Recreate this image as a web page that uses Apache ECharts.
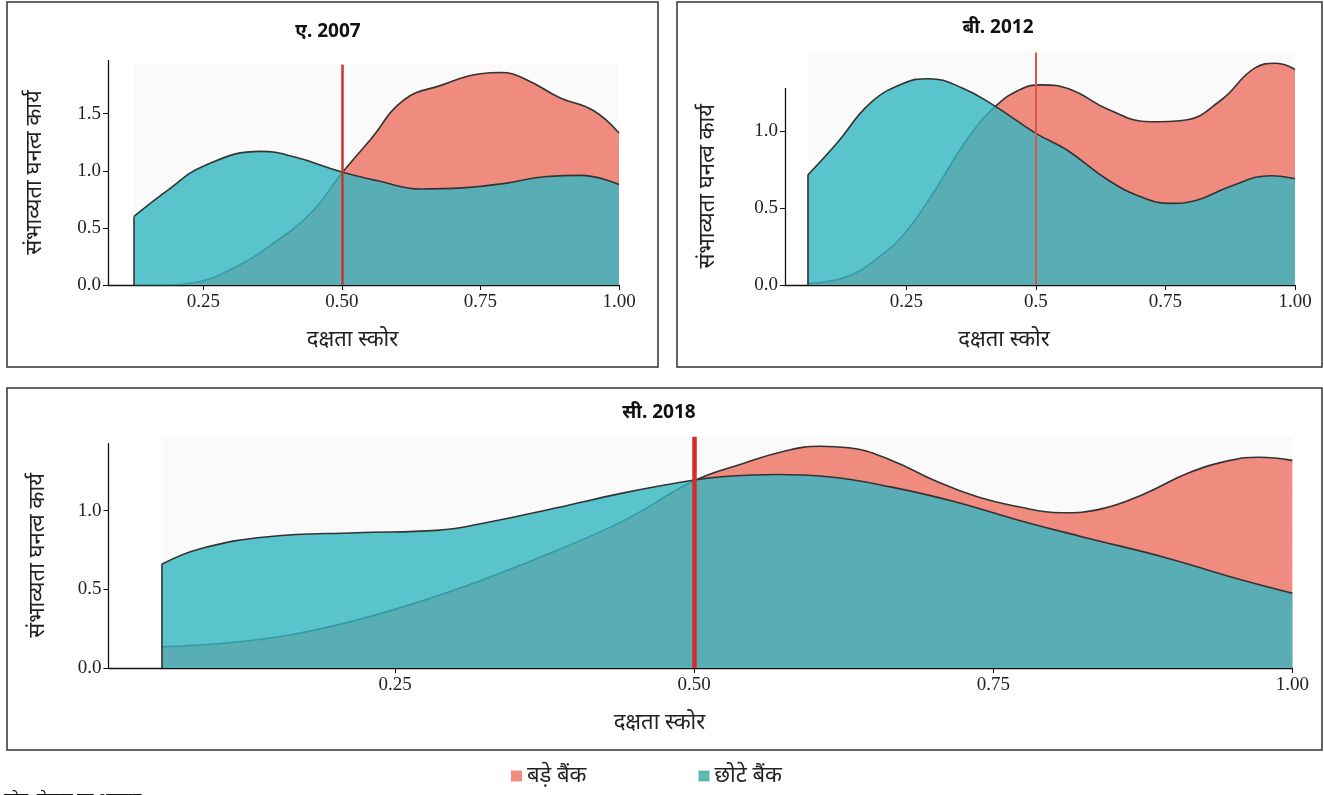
<!DOCTYPE html>
<html>
<head>
<meta charset="utf-8">
<script src="https://cdn.jsdelivr.net/npm/echarts@6/dist/echarts.min.js"></script>
<style>
html,body{margin:0;padding:0;background:#fff;}
#chart{width:1324px;height:795px;}
</style>
</head>
<body>
<div id="chart"></div>
<script>
// ---- Data ----
const seriesNames = ['बड़े बैंक', 'छोटे बैंक'];
const titles = ['ए. 2007', 'बी. 2012', 'सी. 2018'];
const xAxisName = 'दक्षता स्कोर';
const yAxisName = 'संभाव्यता घनत्व कार्य';
const noteText = 'स्रोत: लेखक का अनुमान';

const xTicks = [0.25, 0.5, 0.75, 1.0];
const xTickLabelsAC = ['0.25', '0.50', '0.75', '1.00'];
const xTickLabelsB = ['0.25', '0.5', '0.75', '1.00'];
const yTicksA = [0, 0.5, 1.0, 1.5];
const yTicksBC = [0, 0.5, 1.0];
const cutoff = 0.5;

// Panel A (2007)
const largeA = [[0.125,0.0],[0.18,0.0],[0.233,0.02],[0.309,0.16],[0.369,0.34],[0.444,0.63],[0.5,0.98],[0.551,1.27],[0.612,1.62],[0.68,1.75],[0.75,1.85],[0.787,1.86],[0.832,1.80],[0.893,1.64],[0.953,1.53],[1.0,1.33]];
const smallA = [[0.125,0.6],[0.186,0.83],[0.25,1.04],[0.354,1.17],[0.415,1.12],[0.5,0.99],[0.567,0.91],[0.643,0.84],[0.718,0.85],[0.794,0.89],[0.87,0.95],[0.931,0.96],[1.0,0.88]];
// Panel B (2012)
const largeB = [[0.06,0.01],[0.132,0.05],[0.197,0.18],[0.253,0.36],[0.31,0.64],[0.366,0.94],[0.422,1.16],[0.47,1.27],[0.51,1.30],[0.567,1.27],[0.64,1.14],[0.721,1.06],[0.786,1.07],[0.857,1.20],[0.923,1.41],[0.963,1.44],[1.0,1.40]];
const smallB = [[0.06,0.714],[0.116,0.92],[0.18,1.18],[0.245,1.31],[0.293,1.34],[0.358,1.28],[0.422,1.16],[0.5,0.985],[0.56,0.877],[0.64,0.68],[0.705,0.57],[0.76,0.53],[0.81,0.55],[0.875,0.64],[0.954,0.71],[1.0,0.69]];
// Panel C (2018)
const largeC = [[0.055,0.135],[0.106,0.157],[0.162,0.21],[0.218,0.305],[0.274,0.43],[0.33,0.58],[0.386,0.75],[0.442,0.94],[0.5,1.19],[0.541,1.30],[0.576,1.38],[0.605,1.41],[0.629,1.40],[0.665,1.32],[0.70,1.195],[0.736,1.09],[0.771,1.025],[0.806,0.987],[0.842,1.015],[0.877,1.11],[0.913,1.24],[0.948,1.32],[0.972,1.34],[1.0,1.32]];
const smallC = [[0.055,0.66],[0.088,0.76],[0.144,0.835],[0.218,0.86],[0.285,0.875],[0.33,0.93],[0.386,1.02],[0.442,1.115],[0.5,1.195],[0.523,1.216],[0.569,1.23],[0.612,1.216],[0.665,1.15],[0.718,1.057],[0.771,0.94],[0.824,0.835],[0.895,0.70],[0.948,0.58],[1.0,0.475]];

// ---- Styles ----
const RED = '#f08b80';
const TEAL = 'rgba(50,182,192,0.8)';
const LEGEND_TEAL = '#64b4b3';
const OUTLINE = '#333';
const SERIF = "'Liberation Serif', 'DejaVu Serif', serif";
const SANS = "'Noto Sans', 'Open Sans', sans-serif";

// axisTop: where the drawn y axis line ends; plotTop: top of the plotting region (cut-off line / background)
const panels = [
  {large: largeA, small: smallA, xMin: 0.078, axisTop: 1.97, plotTop: 1.97, lineTop: 1.93, yTicks: yTicksA, xLabels: xTickLabelsAC,
   grid: {left: 108, right: 705, top: 60, bottom: 510}, vWidth: 2.5, vColor: '#c9362c', nameGapY: 62, yNameShift: 0, xNamePad: 22, xNameGap: 44},
  {large: largeB, small: smallB, xMin: 0.016, axisTop: 1.28, plotTop: 1.51, lineTop: 1.51, yTicks: yTicksBC, xLabels: xTickLabelsB,
   grid: {left: 785, right: 29, top: 52.5, bottom: 510}, vWidth: 2, vColor: '#d9574a', nameGapY: 66, yNameShift: 35, xNamePad: 72, xNameGap: 44},
  {large: largeC, small: smallC, xMin: 0.0105, axisTop: 1.43, plotTop: 1.47, lineTop: 1.47, yTicks: yTicksBC, xLabels: xTickLabelsAC,
   grid: {left: 108.5, right: 31.6, top: 436.8, bottom: 127}, vWidth: 4.5, vColor: '#d42b2b', nameGapY: 60, yNameShift: 6, xNamePad: 82, xNameGap: 44}
];

const grids = [], xAxes = [], yAxes = [], series = [];
panels.forEach((p, i) => {
  grids.push(Object.assign({containLabel: false}, p.grid));
  xAxes.push({
    type: 'value', gridIndex: i, min: p.xMin, max: 1.0,
    name: xAxisName, nameLocation: 'middle', nameGap: p.xNameGap,
    nameTextStyle: {fontFamily: SANS, fontSize: 22, color: '#222', padding: [0, p.xNamePad, 0, 0]},
    axisLine: {show: true, onZero: false, lineStyle: {color: '#111', width: 1.3}},
    axisTick: {show: true, length: 5, customValues: xTicks, lineStyle: {color: '#111'}},
    axisLabel: {customValues: xTicks, fontFamily: SERIF, fontSize: 19, color: '#222', margin: 8,
      formatter: v => { const k = xTicks.findIndex(t => Math.abs(t - v) < 1e-6); return k >= 0 ? p.xLabels[k] : ''; }},
    splitLine: {show: false}
  });
  yAxes.push({
    type: 'value', gridIndex: i, min: 0, max: p.plotTop,
    name: yAxisName, nameLocation: 'middle', nameGap: p.nameGapY, nameRotate: 90,
    nameTextStyle: {fontFamily: SANS, fontSize: 22, color: '#222', padding: [0, p.yNameShift, 0, 0]},
    axisLine: {show: false},
    axisTick: {show: true, length: 5, customValues: p.yTicks, lineStyle: {color: '#111'}},
    axisLabel: {customValues: p.yTicks, fontFamily: SERIF, fontSize: 19, color: '#222', margin: 7,
      formatter: v => v.toFixed(1)},
    splitLine: {show: false}
  });
  const x0 = p.small[0][0];
  // background region + y axis line (drawn to axisTop only)
  series.push({
    name: 'bg' + i, type: 'line', xAxisIndex: i, yAxisIndex: i, data: [], z: 1,
    markArea: {silent: true, itemStyle: {color: 'rgba(246,246,246,0.6)'},
      data: [[{coord: [x0, 0]}, {coord: [1.0, p.lineTop]}]]},
    markLine: {silent: true, symbol: 'none', label: {show: false}, animation: false,
      lineStyle: {color: '#111', width: 1.3, type: 'solid'},
      data: [[{coord: [p.xMin, 0]}, {coord: [p.xMin, p.axisTop]}]]}
  });
  series.push({
    name: seriesNames[0], type: 'line', xAxisIndex: i, yAxisIndex: i,
    data: p.large, smooth: 0.45, showSymbol: false,
    lineStyle: {color: OUTLINE, width: 1.6}, itemStyle: {color: RED},
    areaStyle: {color: RED, opacity: 1}, z: 2,
    emphasis: {disabled: true}
  });
  series.push({
    name: seriesNames[1], type: 'line', xAxisIndex: i, yAxisIndex: i,
    data: p.small, smooth: 0.45, showSymbol: false,
    lineStyle: {color: OUTLINE, width: 1.6}, itemStyle: {color: LEGEND_TEAL},
    areaStyle: {color: TEAL, opacity: 1}, z: 3,
    emphasis: {disabled: true},
    markLine: {silent: true, symbol: 'none', label: {show: false}, animation: false,
      lineStyle: {color: OUTLINE, width: 1.6, type: 'solid'},
      data: [[{coord: [x0, 0]}, {coord: [x0, p.small[0][1]]}]]}
  });
  series.push({
    name: 'cut' + i, type: 'line', xAxisIndex: i, yAxisIndex: i, data: [], z: 4,
    markLine: {silent: true, symbol: 'none', label: {show: false}, animation: false,
      lineStyle: {color: p.vColor, width: p.vWidth, type: 'solid'},
      data: [[{coord: [cutoff, 0]}, {coord: [cutoff, p.lineTop]}]]}
  });
});

const frame = (x, y, w, h) => ({type: 'rect', shape: {x, y, width: w, height: h},
  style: {fill: 'none', stroke: '#333', lineWidth: 1.5}, silent: true, z: 0});
const titleText = (x, y, t) => ({type: 'text', x, y, style: {text: t, fill: '#111',
  font: "bold 19px 'Noto Sans', 'Open Sans', sans-serif", textAlign: 'center', textVerticalAlign: 'middle'}, z: 10});

const option = {
  animation: false,
  backgroundColor: '#fff',
  grid: grids, xAxis: xAxes, yAxis: yAxes, series,
  legend: {
    data: [{name: seriesNames[0], itemStyle: {color: RED}}, {name: seriesNames[1], itemStyle: {color: LEGEND_TEAL}}],
    left: 506, top: 760, icon: 'rect', itemWidth: 11, itemHeight: 11, itemGap: 112,
    textStyle: {fontFamily: SANS, fontSize: 22, color: '#222'}, selectedMode: false
  },
  graphic: [
    frame(7, 2, 651, 365), frame(677, 2, 645, 365), frame(7, 388, 1315, 362),
    titleText(328, 32, titles[0]), titleText(998, 28, titles[1]), titleText(659, 413, titles[2]),
    {type: 'text', x: 4, y: 791, style: {text: noteText, fill: '#111', font: "16px 'Noto Sans', sans-serif"}}
  ]
};

const chart = echarts.init(document.getElementById('chart'), null, {renderer: 'canvas'});
chart.setOption(option);
</script>
</body>
</html>
